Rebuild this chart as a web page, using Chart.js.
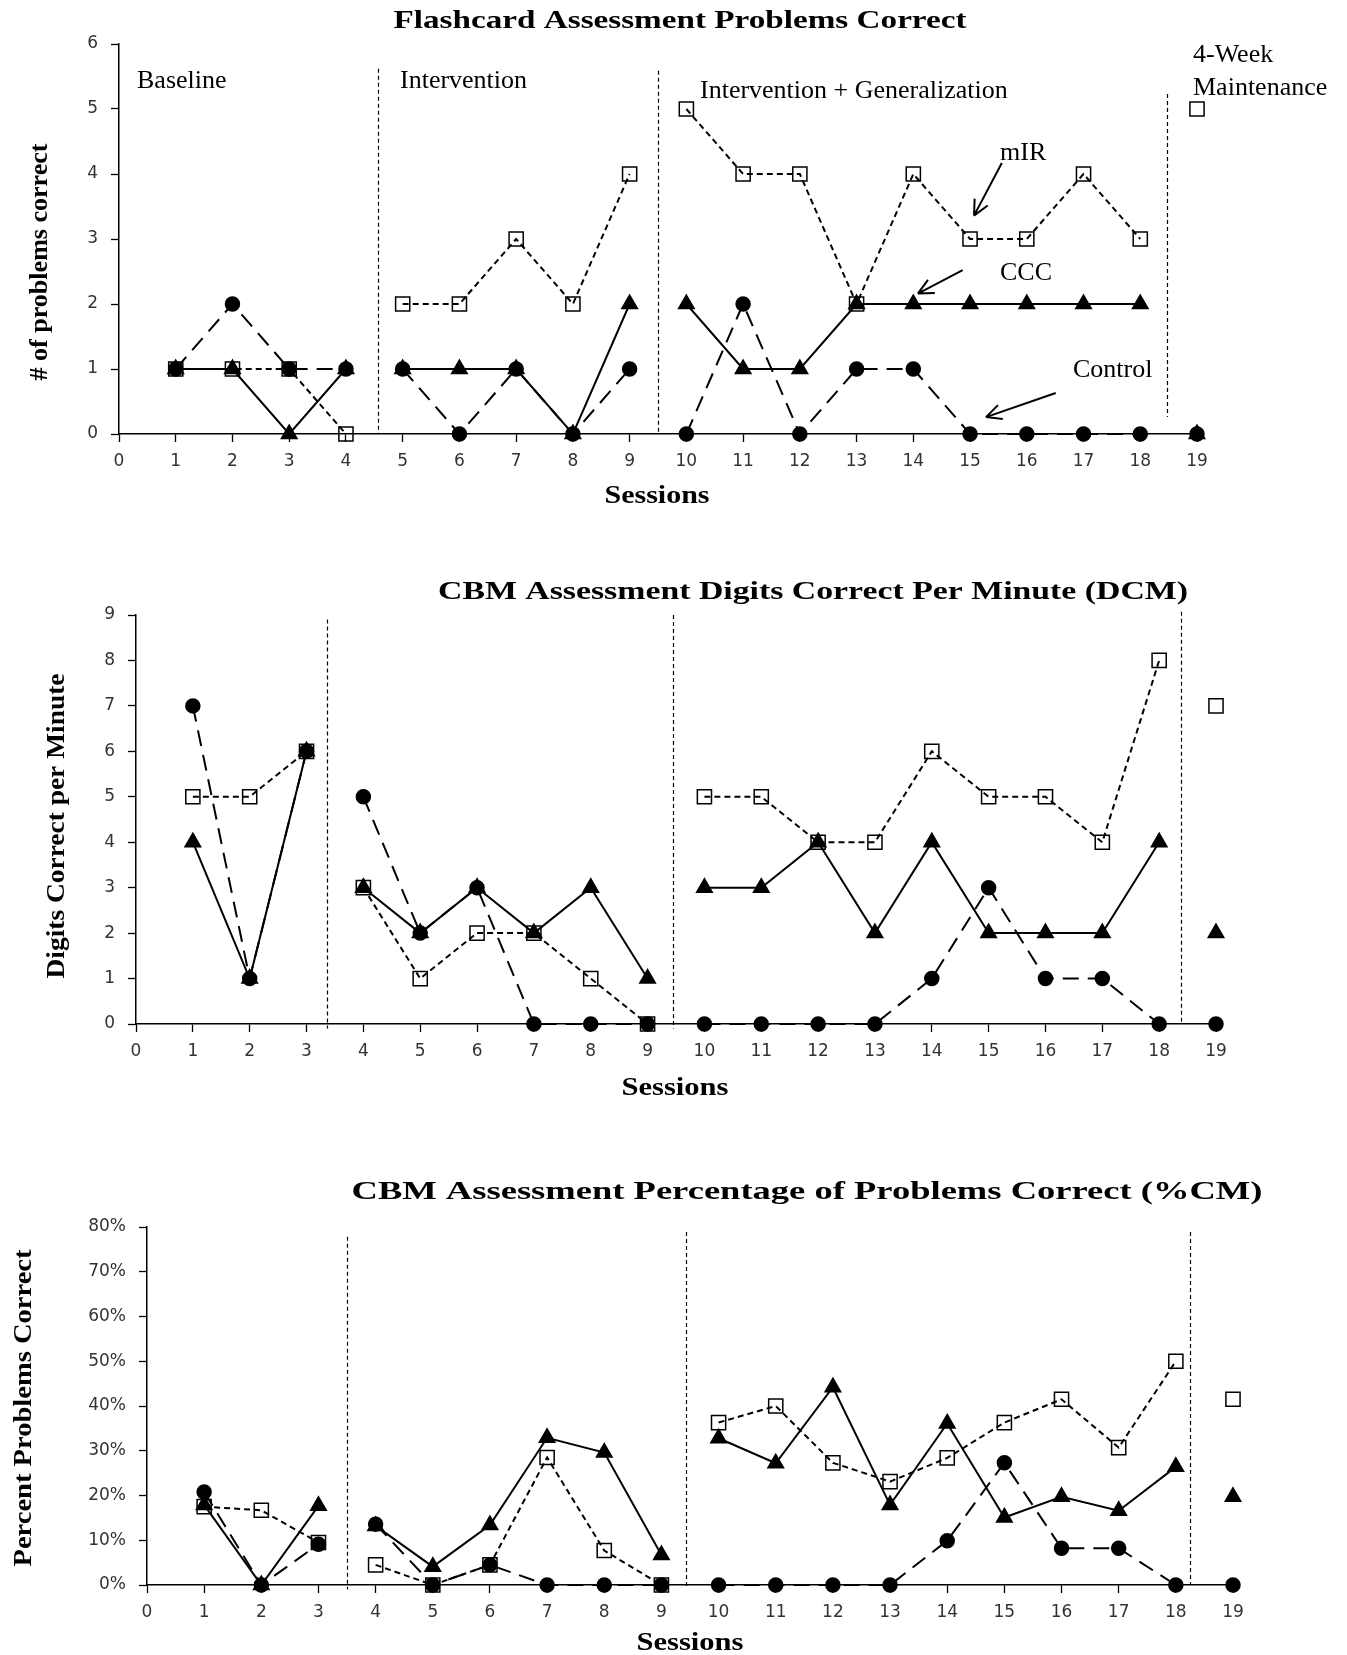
<!DOCTYPE html>
<html>
<head>
<meta charset="utf-8">
<script src="https://cdn.jsdelivr.net/npm/chart.js@4.4.1/dist/chart.umd.min.js"></script>
<style>
  html, body { margin: 0; padding: 0; background: #fff; }
  body { width: 1347px; height: 1655px; position: relative; overflow: hidden; }
  canvas { position: absolute; left: 0; }
</style>
</head>
<body>
<canvas id="chartFlash" width="1347" height="540" style="top:0"></canvas>
<canvas id="chartDcm" width="1347" height="570" style="top:540px"></canvas>
<canvas id="chartPcm" width="1347" height="545" style="top:1110px"></canvas>
<script>
// =============================
// DATA
// =============================
const sessions = [1, 2, 3, 4, 5, 6, 7, 8, 9, 10, 11, 12, 13, 14, 15, 16, 17, 18, 19];

// Flashcard Assessment Problems Correct
const flashMir     = [1, 1, 1, 0, 2, 2, 3, 2, 4, 5, 4, 4, 2, 4, 3, 3, 4, 3, 5];
const flashCcc     = [1, 1, 0, 1, 1, 1, 1, 0, 2, 2, 1, 1, 2, 2, 2, 2, 2, 2, 0];
const flashControl = [1, 2, 1, 1, 1, 0, 1, 0, 1, 0, 2, 0, 1, 1, 0, 0, 0, 0, 0];
const flashPhaseEnds = [4, 9, 18];

// CBM Digits Correct per Minute
const dcmMir     = [5, 5, 6, 3, 1, 2, 2, 1, 0, 5, 5, 4, 4, 6, 5, 5, 4, 8, 7];
const dcmCcc     = [4, 1, 6, 3, 2, 3, 2, 3, 1, 3, 3, 4, 2, 4, 2, 2, 2, 4, 2];
const dcmControl = [7, 1, 6, 5, 2, 3, 0, 0, 0, 0, 0, 0, 0, 1, 3, 1, 1, 0, 0];
const dcmPhaseEnds = [3, 9, 18];

// CBM Percentage of Problems Correct
const pcmMir     = [17.5, 16.7, 9.5, 4.5, 0, 4.5, 28.5, 7.7, 0, 36.3, 40, 27.3, 23.1, 28.4, 36.3, 41.5, 30.7, 50, 41.5];
const pcmCcc     = [17.9, 0, 17.7, 13.2, 4.1, 13.4, 32.9, 29.6, 6.7, 32.8, 27.2, 44.2, 17.9, 36.1, 15.1, 19.7, 16.6, 26.4, 19.7];
const pcmControl = [20.8, 0, 9.1, 13.6, 0, 4.5, 0, 0, 0, 0, 0, 0, 0, 9.9, 27.3, 8.2, 8.2, 0, 0];
const pcmPhaseEnds = [3, 9, 18];

const SERIF = '"Liberation Serif", "Times New Roman", serif';
const tickFont = { family: '"DejaVu Sans", Verdana, sans-serif', size: 17 };

// =============================
// PLUGIN - phase lines, texts, arrows
// =============================
const phaseMarks = {
  id: 'phaseMarks',
  beforeDatasetsDraw(chart, args, o) {
    const { ctx, scales: { x, y } } = chart;
    ctx.save();
    ctx.strokeStyle = '#000';
    ctx.lineWidth = 1.2;
    ctx.setLineDash([4, 3]);
    (o.lines || []).forEach(l => {
      const px = Math.round(x.getPixelForValue(l.x)) + 0.5;
      ctx.beginPath();
      ctx.moveTo(px, y.getPixelForValue(l.top));
      ctx.lineTo(px, y.getPixelForValue(l.bottom));
      ctx.stroke();
    });
    ctx.restore();
  },
  afterDraw(chart, args, o) {
    const { ctx, scales: { x, y } } = chart;
    const top = o.top || 0;
    ctx.save();
    ctx.fillStyle = '#000';
    (o.texts || []).forEach(t => {
      ctx.save();
      ctx.font = t.font;
      ctx.textAlign = t.align || 'center';
      ctx.textBaseline = 'alphabetic';
      ctx.translate(t.x, t.y - top);
      if (t.rot) ctx.rotate(-Math.PI / 2);
      if (t.w) ctx.scale(t.w / ctx.measureText(t.text).width, 1);
      ctx.fillText(t.text, 0, 0);
      ctx.restore();
    });
    ctx.strokeStyle = '#000';
    ctx.lineWidth = 2;
    (o.arrows || []).forEach(a => {
      const x0 = x.getPixelForValue(a.from[0]), y0 = y.getPixelForValue(a.from[1]);
      const x1 = x.getPixelForValue(a.to[0]), y1 = y.getPixelForValue(a.to[1]);
      const ang = Math.atan2(y1 - y0, x1 - x0);
      ctx.beginPath();
      ctx.moveTo(x0, y0);
      ctx.lineTo(x1, y1);
      [0.45, -0.45].forEach(d => {
        ctx.moveTo(x1, y1);
        ctx.lineTo(x1 - 17 * Math.cos(ang + d), y1 - 17 * Math.sin(ang + d));
      });
      ctx.stroke();
    });
    ctx.restore();
  }
};
Chart.register(phaseMarks);

// =============================
// CHART BUILDER
// =============================
function criarGrafico(id, cfg) {
  const ends = cfg.phaseEnds;
  const pts = vals => vals.map((v, i) => ({ x: sessions[i], y: v }));
  const seg = { borderColor: c => ends.includes(c.p0.parsed.x) ? 'rgba(0,0,0,0)' : '#000' };
  const base = {
    borderColor: '#000', pointBorderColor: '#000', borderWidth: 2,
    clip: false, tension: 0, segment: seg, pointBorderWidth: 1.5
  };
  const axisGrid = { drawOnChartArea: false, tickLength: 8, color: '#000', tickWidth: 1.3 };
  const axisBorder = { color: '#000', width: 1.5 };

  return new Chart(document.getElementById(id), {
    type: 'line',
    data: {
      datasets: [
        { label: 'mIR', data: pts(cfg.mir), borderDash: [6, 4], pointStyle: 'rect', pointRadius: 10,
          pointBackgroundColor: 'rgba(0,0,0,0)' },
        { label: 'CCC', data: pts(cfg.ccc), pointStyle: 'triangle', pointRadius: 9,
          pointBackgroundColor: '#000' },
        { label: 'Control', data: pts(cfg.control), borderDash: [16, 9], pointStyle: 'circle', pointRadius: 7,
          pointBackgroundColor: '#000' }
      ].map(d => Object.assign({}, base, d))
    },
    options: {
      responsive: false,
      animation: false,
      events: [],
      layout: { padding: { left: 0, top: cfg.area.top, right: 1347 - cfg.area.right, bottom: 0 } },
      plugins: {
        legend: { display: false },
        tooltip: { enabled: false },
        phaseMarks: cfg.marks
      },
      scales: {
        x: {
          type: 'linear', min: 0, max: 19,
          afterFit: s => { s.height = cfg.xHeight; },
          ticks: { stepSize: 1, font: tickFont, color: '#333', padding: 9 },
          grid: axisGrid, border: axisBorder
        },
        y: {
          min: 0, max: cfg.yMax,
          afterFit: s => { s.width = cfg.area.left; },
          ticks: { stepSize: cfg.yStep, font: tickFont, color: '#333', padding: 13,
                   callback: cfg.fmt || (v => v) },
          grid: axisGrid, border: axisBorder
        }
      }
    }
  });
}

const labelFont = '26px ' + SERIF;
const boldTitle = 'bold 25px ' + SERIF;
const boldAxis = 'bold 26px ' + SERIF;

criarGrafico('chartFlash', {
  mir: flashMir, ccc: flashCcc, control: flashControl, phaseEnds: flashPhaseEnds,
  area: { left: 119, right: 1197, top: 44 }, xHeight: 106, yMax: 6, yStep: 1,
  marks: {
    top: 0,
    lines: [
      { x: 4.565, top: 5.62, bottom: 0 },
      { x: 9.5, top: 5.59, bottom: 0 },
      { x: 18.47, top: 5.23, bottom: 0.26 }
    ],
    texts: [
      { text: 'Flashcard Assessment Problems Correct', x: 680, y: 28, font: boldTitle, w: 573 },
      { text: '# of problems correct', x: 47, y: 262, font: boldAxis, w: 237, rot: true },
      { text: 'Sessions', x: 657, y: 503, font: boldTitle, w: 105 },
      { text: 'Baseline', x: 137, y: 88, font: labelFont, align: 'left' },
      { text: 'Intervention', x: 400, y: 88, font: labelFont, align: 'left' },
      { text: 'Intervention + Generalization', x: 700, y: 98, font: labelFont, align: 'left' },
      { text: '4-Week', x: 1193, y: 62, font: labelFont, align: 'left' },
      { text: 'Maintenance', x: 1193, y: 95, font: labelFont, align: 'left' },
      { text: 'mIR', x: 1000, y: 160, font: labelFont, align: 'left' },
      { text: 'CCC', x: 1000, y: 280, font: labelFont, align: 'left' },
      { text: 'Control', x: 1073, y: 377, font: labelFont, align: 'left' }
    ],
    arrows: [
      { from: [15.56, 4.17], to: [15.07, 3.36] },
      { from: [14.87, 2.52], to: [14.08, 2.16] },
      { from: [16.51, 0.63], to: [15.28, 0.26] }
    ]
  }
});

criarGrafico('chartDcm', {
  mir: dcmMir, ccc: dcmCcc, control: dcmControl, phaseEnds: dcmPhaseEnds,
  area: { left: 136, right: 1216, top: 75 }, xHeight: 86, yMax: 9, yStep: 1,
  marks: {
    top: 540,
    lines: [
      { x: 3.36, top: 8.9, bottom: -0.1 },
      { x: 9.45, top: 9.0, bottom: -0.1 },
      { x: 18.38, top: 9.07, bottom: 0 }
    ],
    texts: [
      { text: 'CBM Assessment Digits Correct Per Minute (DCM)', x: 813, y: 599, font: boldTitle, w: 750 },
      { text: 'Digits Correct per Minute', x: 64, y: 826, font: boldAxis, w: 305, rot: true },
      { text: 'Sessions', x: 675, y: 1095, font: boldTitle, w: 107 }
    ]
  }
});

criarGrafico('chartPcm', {
  mir: pcmMir, ccc: pcmCcc, control: pcmControl, phaseEnds: pcmPhaseEnds,
  area: { left: 147, right: 1233, top: 117 }, xHeight: 70, yMax: 80, yStep: 10,
  fmt: v => v + '%',
  marks: {
    top: 1110,
    lines: [
      { x: 3.5, top: 77.8, bottom: -1 },
      { x: 9.43, top: 78.9, bottom: -0.5 },
      { x: 18.25, top: 78.9, bottom: 0 }
    ],
    texts: [
      { text: 'CBM Assessment Percentage of Problems Correct (%CM)', x: 807, y: 1199, font: boldTitle, w: 911 },
      { text: 'Percent Problems Correct', x: 31, y: 1408, font: boldAxis, w: 317, rot: true },
      { text: 'Sessions', x: 690, y: 1650, font: boldTitle, w: 107 }
    ]
  }
});
</script>
</body>
</html>
